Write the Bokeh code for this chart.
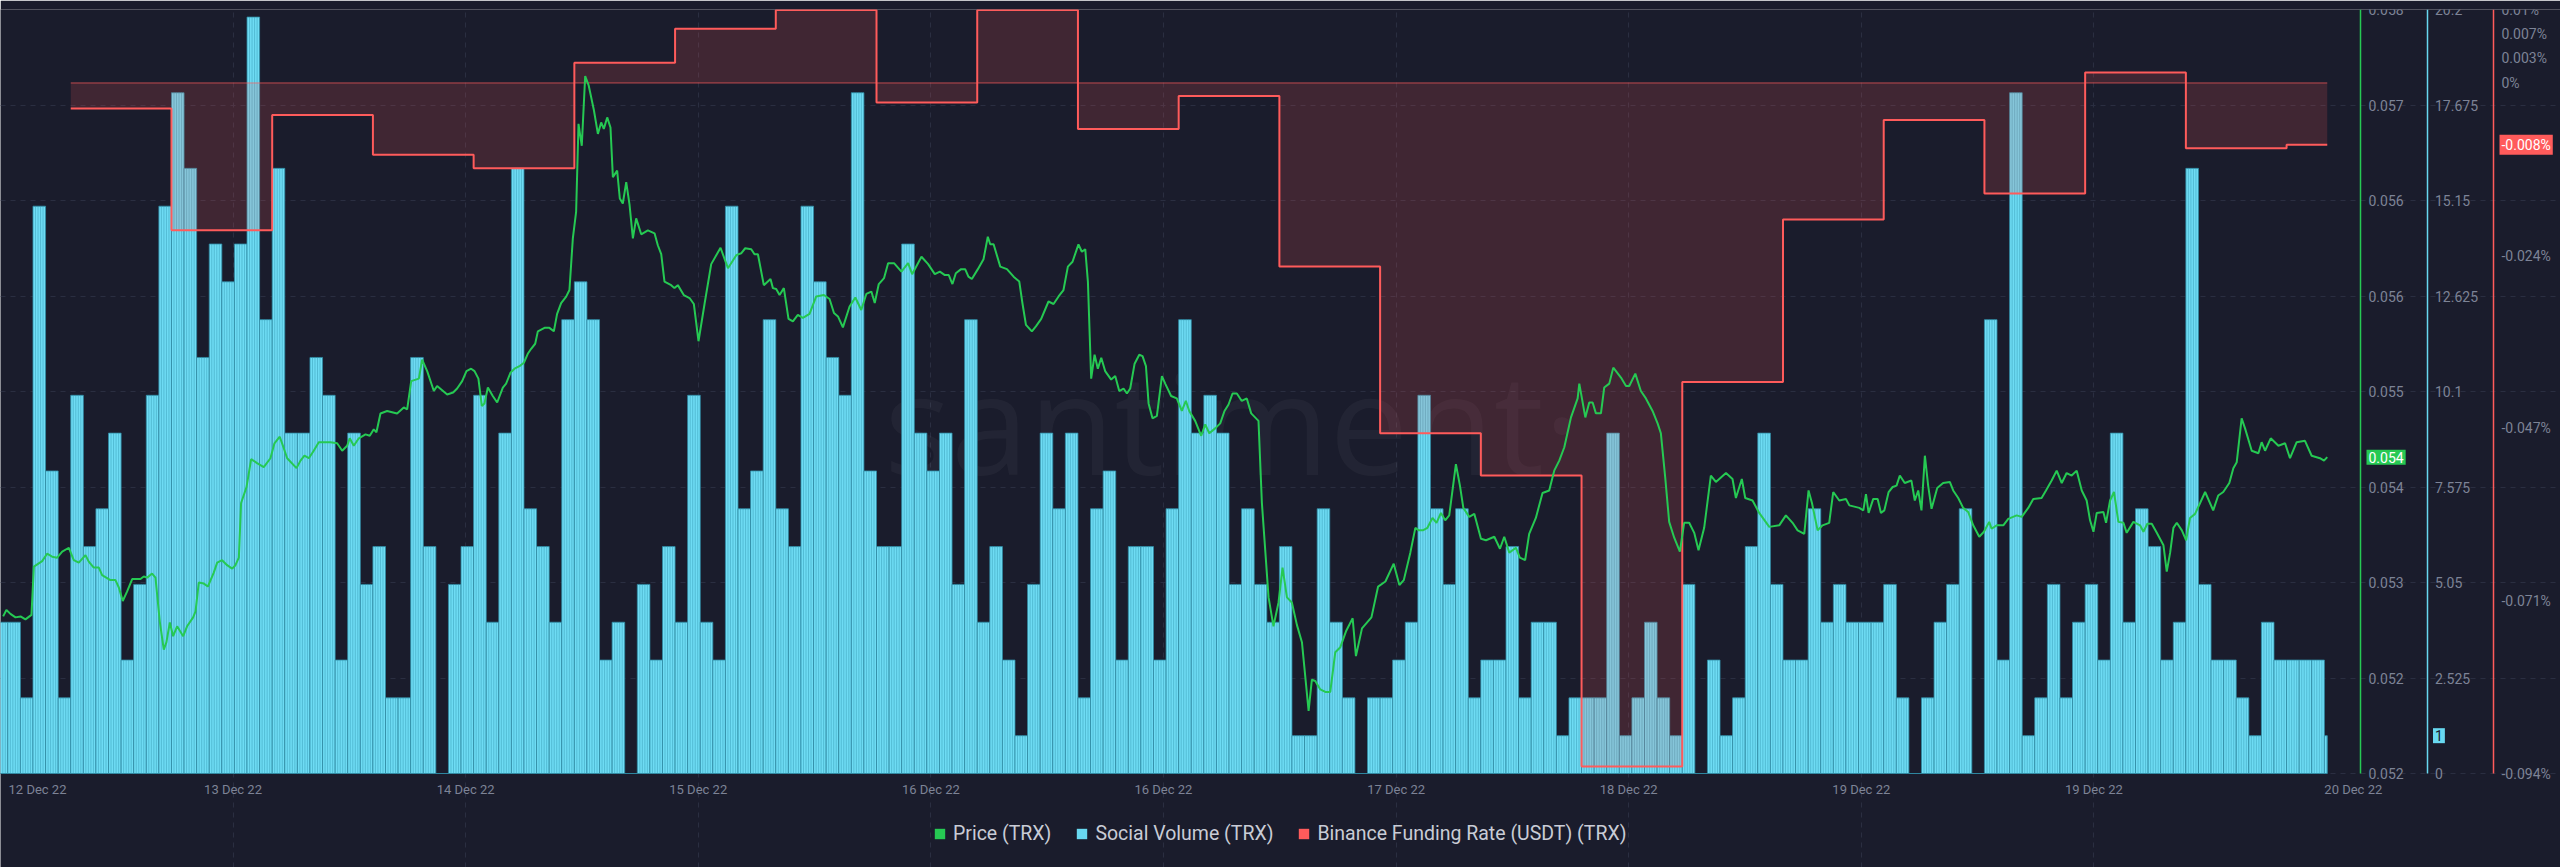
from bokeh.plotting import figure
from bokeh.models import Range1d, LinearAxis, FixedTicker, Legend, LegendItem, Label, ColumnDataSource
from bokeh.embed import file_html
from bokeh.resources import INLINE

# ---------------- data ----------------
# hourly social volume, first bar starts at hour -1
vol_start_hour = -1
volume = [4, 4, 2, 15, 8, 2, 10, 6, 7, 9, 3, 5, 10, 15, 18, 16, 11, 14, 13, 14,
          20, 12, 16, 9, 9, 11, 10, 3, 9, 5, 6, 2, 2, 11, 6, 0, 5, 6, 10, 4,
          9, 16, 7, 6, 4, 12, 13, 12, 3, 4, 0, 5, 3, 6, 4, 10, 4, 3, 15, 7,
          8, 12, 7, 6, 15, 13, 11, 10, 18, 8, 6, 6, 14, 9, 8, 9, 5, 12, 4, 6,
          3, 1, 5, 9, 7, 9, 2, 7, 8, 3, 6, 6, 3, 7, 12, 9, 10, 9, 5, 7,
          5, 4, 6, 1, 1, 7, 4, 2, 0, 2, 2, 3, 4, 10, 7, 5, 7, 2, 3, 3,
          6, 2, 4, 4, 1, 2, 2, 2, 9, 1, 2, 4, 2, 1, 5, 0, 3, 1, 2, 6,
          9, 5, 3, 3, 7, 4, 5, 4, 4, 4, 5, 2, 0, 2, 4, 5, 7, 0, 12, 3,
          18, 1, 2, 5, 2, 4, 5, 3, 9, 4, 7, 6, 3, 4, 16, 5, 3, 3, 2, 1,
          4, 3, 3, 3, 3, 1]

price_hours = [
    -0.37, -0.11, 0.21, 0.61, 1.01, 1.40, 1.88, 2.07, 2.73, 3.12, 3.52, 3.92, 4.32, 4.85, 5.24, 5.64,
    6.17, 6.43, 6.83, 7.23, 7.49, 8.15, 8.55, 8.82, 9.13, 9.48, 9.88, 10.54, 10.80, 11.07, 11.46, 11.73,
    12.07, 12.39, 12.60, 12.87, 13.13, 13.45, 13.93, 14.24, 14.72, 14.91, 15.17, 15.57, 15.89, 16.36,
    16.63, 17.02, 17.42, 17.82, 18.08, 18.35, 18.53, 18.96, 19.33, 19.80, 20.33, 20.86, 21.18, 21.60,
    21.92, 22.19, 22.93, 23.25, 23.56, 23.91, 24.30, 24.70, 25.63, 26.16, 26.56, 26.95, 27.16, 27.48,
    27.88, 28.41, 28.75, 29.07, 29.28, 29.60, 30.13, 30.92, 31.45, 31.72, 32.04, 32.65, 32.91, 33.31,
    33.84, 34.10, 34.90, 35.37, 35.69, 36.09, 36.43, 36.80, 37.07,
    37.38, 37.65, 37.86, 38.13, 38.52, 38.87, 39.32, 39.58, 39.93, 40.25, 40.64, 40.99, 41.30, 41.57,
    41.89, 42.10, 42.63, 43.02, 43.37, 43.63, 43.95, 44.35, 44.61, 44.88, 45.14, 45.33, 45.59, 45.86,
    46.13, 46.55, 46.87, 47.13, 47.34, 47.61, 47.87, 48.06, 48.40, 48.61, 48.85, 49.12, 49.38, 49.65,
    49.91, 50.31, 50.84, 51.37, 51.63, 51.90, 52.16, 52.69, 52.95, 53.22, 53.69, 54.15, 54.49, 54.86,
    55.34, 55.87, 56.61, 57.20, 57.86, 58.25, 58.57, 59.05, 59.31, 59.58, 60.05, 60.58, 60.77, 61.03,
    61.30, 61.64, 62.01, 62.36, 62.75, 63.15, 63.68, 64.21, 64.82, 65.27, 65.62, 65.94, 66.33, 66.86,
    67.32, 67.79, 68.19, 68.59, 68.86, 69.18, 69.60, 69.92, 70.39, 70.98, 71.51, 71.83, 72.57, 73.10,
    73.63, 74.03, 74.43, 74.74,
    75.03, 75.30, 75.72, 76.04, 76.30, 76.57, 77.05, 77.50, 77.84, 78.03, 78.30, 78.83, 79.36, 79.89,
    80.34, 80.60, 80.87, 81.34, 81.66, 82.08, 82.66, 83.06, 83.46, 83.85, 84.20, 84.57, 85.04, 85.31,
    85.58, 85.79, 86.05, 86.32, 86.58, 86.85, 87.16, 87.64, 87.96, 88.28, 88.62, 88.89, 89.15, 89.50,
    89.87, 90.13, 90.40, 90.61, 90.92, 91.27, 91.67, 91.93, 92.40, 92.85, 93.25, 93.57, 93.84, 94.31,
    94.79, 95.11, 95.43, 95.90, 96.30, 96.64, 96.96, 97.28, 97.62, 98.01, 98.41, 98.76, 99.34, 99.61,
    100.14, 100.53, 100.93, 101.25, 101.60, 101.99, 102.39, 102.79, 103.32, 103.58, 103.85, 104.25,
    104.65, 105.04, 105.44, 105.84, 106.29, 106.82, 107.08, 107.56, 108.31, 108.84, 109.42, 110.08,
    110.53, 110.88, 111.40, 111.80, 112.07, 112.39,
    112.76, 113.16, 113.48, 113.83, 114.17, 114.49, 115.02, 115.34, 115.61, 116.08, 116.48, 117.01,
    117.41, 118.07, 118.52, 118.86, 119.26, 119.79, 120.10, 120.52, 120.84, 121.37, 121.90, 122.43,
    122.83, 123.23, 123.63, 124.16, 124.69, 124.82, 125.30, 125.61, 125.88, 126.14, 126.54, 126.80,
    127.20, 127.52, 128.13, 128.53, 128.79, 129.27, 129.71, 130.11, 130.64, 131.04, 131.30, 131.65,
    131.96, 132.36, 132.81, 133.15, 133.55, 133.95, 134.29, 134.74, 135.27, 135.67, 136.47, 136.99,
    137.26, 137.73, 138.00, 138.58, 139.11, 139.91, 140.70, 141.23, 141.76, 142.16, 142.69, 143.03,
    143.30, 143.75, 144.14, 144.67, 144.99, 145.47, 146.00, 146.27, 147.06, 147.38, 147.59, 147.80,
    148.17, 148.52, 148.78, 149.05, 149.39, 149.71, 150.02,
    150.28, 150.67, 151.20, 151.47, 151.74, 152.00, 152.27, 152.53, 152.80, 153.25, 153.72, 154.25,
    154.52, 154.92, 155.31, 155.71, 156.11, 156.59, 156.96, 157.38, 157.57, 157.97, 158.50, 158.89,
    159.56, 159.96, 160.48, 160.88, 161.54, 161.89, 162.34, 162.74, 163.14, 163.53, 163.93, 164.33,
    164.73, 165.12, 165.39, 165.66, 165.92, 166.45, 166.66, 166.98, 167.29, 167.64, 168.04, 168.30,
    168.83, 169.36, 169.63, 169.94, 170.29, 170.69, 171.22, 171.48, 171.75, 172.01, 172.28, 172.68,
    173.02, 173.33, 173.73, 174.13, 174.53, 175.17, 175.57, 175.97, 176.45, 176.77, 177.04, 177.43,
    177.70, 178.23, 178.76, 179.02, 179.29, 179.74, 180.35, 180.88, 181.27, 181.80, 182.46, 182.99,
    183.65, 183.97, 184.23]

price_values = [
    0.052916, 0.052970, 0.052937, 0.052908, 0.052916, 0.052891, 0.052929, 0.053333, 0.053379, 0.053441,
    0.053416, 0.053408, 0.053458, 0.053491, 0.053387, 0.053366, 0.053429, 0.053375, 0.053325, 0.053325,
    0.053262, 0.053220, 0.053220, 0.053158, 0.053045, 0.053125, 0.053229, 0.053229, 0.053250, 0.053241,
    0.053275, 0.053241, 0.052875, 0.052637, 0.052700, 0.052866, 0.052750, 0.052833, 0.052750, 0.052833,
    0.052908, 0.052958, 0.053200, 0.053191, 0.053166, 0.053283, 0.053366, 0.053387, 0.053345, 0.053316,
    0.053345, 0.053408, 0.053866, 0.053999, 0.054233, 0.054200, 0.054166, 0.054241, 0.054366, 0.054421,
    0.054325, 0.054241, 0.054158, 0.054221, 0.054262, 0.054241, 0.054304, 0.054375, 0.054375, 0.054366,
    0.054304, 0.054345, 0.054408, 0.054345, 0.054408, 0.054441, 0.054429, 0.054483, 0.054458, 0.054616,
    0.054637, 0.054616, 0.054666, 0.054650, 0.054887, 0.054908, 0.055066, 0.054971, 0.054804, 0.054846,
    0.054775, 0.054791, 0.054825, 0.054887, 0.054971, 0.054991, 0.054971,
    0.054908, 0.054679, 0.054700, 0.054833, 0.054762, 0.054708, 0.054833, 0.054866, 0.054958, 0.054991,
    0.055012, 0.055041, 0.055116, 0.055158, 0.055200, 0.055304, 0.055333, 0.055333, 0.055304, 0.055450,
    0.055541, 0.055595, 0.055650, 0.056083, 0.056304, 0.057042, 0.056858, 0.057442, 0.057367, 0.057158,
    0.056958, 0.057054, 0.057000, 0.057096, 0.057012, 0.056596, 0.056650, 0.056417, 0.056375, 0.056554,
    0.056367, 0.056083, 0.056250, 0.056117, 0.056150, 0.056125, 0.056025, 0.055950, 0.055721, 0.055691,
    0.055666, 0.055691, 0.055608, 0.055583, 0.055533, 0.055221, 0.055533, 0.055867, 0.056004, 0.055833,
    0.055942, 0.055958, 0.056000, 0.055992, 0.055950, 0.055950, 0.055691, 0.055742, 0.055666, 0.055658,
    0.055608, 0.055666, 0.055408, 0.055387, 0.055441, 0.055416, 0.055450, 0.055596, 0.055608, 0.055575,
    0.055458, 0.055429, 0.055337, 0.055512, 0.055587, 0.055483, 0.055617, 0.055637, 0.055541, 0.055700,
    0.055750, 0.055875, 0.055875, 0.055804, 0.055875, 0.055783, 0.055929, 0.055867, 0.055783, 0.055804,
    0.055775, 0.055775,
    0.055700, 0.055791, 0.055825, 0.055825, 0.055762, 0.055742, 0.055825, 0.055908, 0.056096, 0.056033,
    0.056033, 0.055846, 0.055825, 0.055762, 0.055721, 0.055533, 0.055358, 0.055304, 0.055346, 0.055408,
    0.055554, 0.055533, 0.055596, 0.055650, 0.055846, 0.055887, 0.056033, 0.055971, 0.055992, 0.055721,
    0.054908, 0.055108, 0.054991, 0.055083, 0.054971, 0.054900, 0.054929, 0.054804, 0.054825, 0.054783,
    0.054825, 0.055033, 0.055108, 0.055096, 0.055012, 0.054700, 0.054575, 0.054596, 0.054929, 0.054866,
    0.054762, 0.054742, 0.054637, 0.054721, 0.054637, 0.054554, 0.054429, 0.054525, 0.054450, 0.054491,
    0.054533, 0.054637, 0.054691, 0.054783, 0.054783, 0.054721, 0.054742, 0.054617, 0.054554, 0.053866,
    0.053075, 0.052833, 0.053033, 0.053325, 0.053075, 0.053033, 0.052845, 0.052700, 0.052125, 0.052387,
    0.052375, 0.052304, 0.052283, 0.052283, 0.052616, 0.052658, 0.052791, 0.052900, 0.052583, 0.052816,
    0.052908, 0.053166, 0.053208, 0.053358, 0.053179, 0.053220, 0.053450, 0.053658, 0.053637, 0.053637,
    0.053658, 0.053741, 0.053700, 0.053783, 0.053721, 0.053762, 0.054191, 0.054012, 0.053825, 0.053750,
    0.053775, 0.053566, 0.053554, 0.053583, 0.053483, 0.053583, 0.053450, 0.053491, 0.053408, 0.053387,
    0.053608, 0.053741, 0.053950, 0.053971, 0.054137, 0.054221, 0.054333, 0.054583, 0.054742, 0.054866,
    0.054583, 0.054708, 0.054708, 0.054617, 0.054617, 0.054833, 0.054866, 0.055000, 0.054917, 0.054846,
    0.054846, 0.054950, 0.054804, 0.054742, 0.054637, 0.054533, 0.054450, 0.054075, 0.053708, 0.053575,
    0.053458, 0.053700, 0.053700, 0.053616, 0.053471, 0.053658, 0.054096, 0.054042, 0.054117, 0.054067,
    0.053908, 0.054067, 0.053908, 0.053887, 0.053783, 0.053666, 0.053679, 0.053762, 0.053700, 0.053637,
    0.053608, 0.053971, 0.053866, 0.053637, 0.053679, 0.053700, 0.053958, 0.053887, 0.053900, 0.053846,
    0.053825, 0.053804, 0.053941, 0.053783, 0.053900, 0.053900, 0.053783, 0.053804, 0.053958, 0.054000,
    0.054012,
    0.054096, 0.054033, 0.054054, 0.053887, 0.053971, 0.053804, 0.054262, 0.054012, 0.053817, 0.053991,
    0.054033, 0.054042, 0.053971, 0.053908, 0.053825, 0.053791, 0.053679, 0.053583, 0.053625, 0.053708,
    0.053650, 0.053679, 0.053679, 0.053733, 0.053762, 0.053750, 0.053825, 0.053900, 0.053908, 0.053971,
    0.054054, 0.054137, 0.054033, 0.054117, 0.054096, 0.054137, 0.053971, 0.053887, 0.053721, 0.053625,
    0.053783, 0.053791, 0.053700, 0.053887, 0.053958, 0.053708, 0.053700, 0.053616, 0.053708, 0.053679,
    0.053625, 0.053692, 0.053692, 0.053616, 0.053512, 0.053291, 0.053450, 0.053658, 0.053700, 0.053637,
    0.053554, 0.053741, 0.053775, 0.053866, 0.053958, 0.053804, 0.053929, 0.053958, 0.054033, 0.054158,
    0.054208, 0.054575, 0.054491, 0.054304, 0.054283, 0.054375, 0.054304, 0.054408, 0.054346, 0.054366,
    0.054241, 0.054375, 0.054387, 0.054262, 0.054241, 0.054221, 0.054250]

# Binance funding rate (%), one value every 8 hours starting at hour 5
funding_start_hour = 5
funding_step_hours = 8
funding_rate = [-0.00347, -0.02006, -0.00435, -0.00977, -0.01160, 0.00276, 0.00737, 0.00994,
                -0.00266, 0.00994, -0.00625, -0.00178, -0.02500, -0.04769, -0.05344, -0.09306,
                -0.04071, -0.01857, -0.00503, -0.01505, 0.00141, -0.00889, -0.00841]

price_ticks = [0.0516, 0.0524, 0.0532, 0.054, 0.0548, 0.0556, 0.0564, 0.0572, 0.058]
price_tick_labels = ["0.052", "0.052", "0.053", "0.054", "0.055", "0.056", "0.056", "0.057", "0.058"]
vol_ticks = [0, 2.525, 5.05, 7.575, 10.1, 12.625, 15.15, 17.675, 20.2]
vol_tick_labels = ["0", "2.525", "5.05", "7.575", "10.1", "12.625", "15.15", "17.675", "20.2"]
fund_ticks = [-0.094, -0.0705, -0.047, -0.0235, 0.0, 0.00333, 0.00667, 0.01]
fund_tick_labels = ["-0.094%", "-0.071%", "-0.047%", "-0.024%", "0%", "0.003%", "0.007%", "0.01%"]
date_tick_hours = [2.36, 17.89, 36.37, 54.84, 73.32, 91.79, 110.27, 128.74, 147.22, 165.69, 186.3]
date_tick_labels = ["12 Dec 22", "13 Dec 22", "14 Dec 22", "15 Dec 22", "16 Dec 22", "16 Dec 22",
                    "17 Dec 22", "18 Dec 22", "19 Dec 22", "19 Dec 22", "20 Dec 22"]

# ---------------- style / layout ----------------
BG = "#1a1c2c"
GREEN = "#26c953"
CYAN = "#68d8f0"
RED = "#ff5b5b"
GREY = "#7d8396"
FONT = "Roboto"

WIDTH, HEIGHT = 2560, 867
TOP_PAD = 9            # px above the chart area
CHART_H = 764          # px height of the chart area
PX_PER_HOUR = 12.59
X_START = -0.58
X_DATA_END = X_START + 2360 / PX_PER_HOUR          # where the price axis sits
X_FRAME_END = X_START + WIDTH / PX_PER_HOUR
AXIS_GAP = 66.5 / PX_PER_HOUR                       # spacing between the three right axes
EXT = (HEIGHT - TOP_PAD - CHART_H) / CHART_H        # room below the chart (dates + legend)

PRICE_RANGE = (0.0516, 0.0580)
VOL_RANGE = (0.0, 20.2)
FUND_RANGE = (-0.094, 0.01)


def extended(lo, hi):
    return Range1d(lo - EXT * (hi - lo), hi)


p = figure(width=WIDTH, height=HEIGHT, output_backend="svg", toolbar_location=None,
           x_range=Range1d(X_START, X_FRAME_END), y_range=extended(*PRICE_RANGE),
           y_axis_location=None, min_border_left=0, min_border_top=TOP_PAD,
           min_border_right=0, min_border_bottom=0,
           background_fill_color=BG, border_fill_color=BG, outline_line_color=None)
p.extra_y_ranges = {"vol": extended(*VOL_RANGE), "fund": extended(*FUND_RANGE)}

# grid
p.xgrid.ticker = FixedTicker(ticks=date_tick_hours[1:-1])
p.xgrid.bounds = PRICE_RANGE
p.ygrid.ticker = FixedTicker(ticks=price_ticks)
p.ygrid.bounds = (X_START, X_DATA_END)
for g in (p.xgrid, p.ygrid):
    g.grid_line_color = "#2a2e41"
    g.grid_line_dash = "5 5"
    g.grid_line_width = 1

# watermark
p.add_layout(Label(x=X_START + (X_DATA_END - X_START) * 0.522, y=0.05456, text="santiment·",
                   text_align="center", text_baseline="alphabetic", text_font="Open Sans",
                   text_font_size="140px", text_color="#ffffff", text_alpha=0.04, level="underlay"))

# social volume bars (each hourly bar drawn with thin inner stripes)
last_hour = price_hours[-1]
bar_left = [vol_start_hour + i for i in range(len(volume))]
bar_right = [min(h + 1, last_hour) for h in bar_left]
bsrc = ColumnDataSource(dict(left=bar_left, right=bar_right, top=volume))
p.quad(left="left", right="right", top="top", bottom=0, source=bsrc, y_range_name="vol",
       fill_color="#6edcf4", line_color="#2f8aa3", line_width=0.8)
sx, sy = [], []
for l, r, v in zip(bar_left, bar_right, volume):
    for k in range(1, 5):
        xs = l + k * 0.2
        if v > 0 and X_START < xs < r:
            sx.append(xs)
            sy.append(v)
p.segment(x0=sx, y0=[0] * len(sx), x1=sx, y1=sy, y_range_name="vol",
          line_color="#3597b0", line_width=0.8, line_alpha=0.6)

# funding rate step + fill
f_hours = [funding_start_hour + funding_step_hours * i for i in range(len(funding_rate))]
f_ends = f_hours[1:] + [last_hour]
fx, fy = [], []
for t0, t1, r in zip(f_hours, f_ends, funding_rate):
    fx += [t0, t1]
    fy += [r, r]
p.varea(x=fx, y1=[0] * len(fx), y2=fy, y_range_name="fund", fill_color=RED, fill_alpha=0.17)
p.line([f_hours[0], last_hour], [0, 0], y_range_name="fund", line_color=RED, line_width=1, line_alpha=0.7)
p.line(fx, fy, y_range_name="fund", line_color=RED, line_width=2)

# price
p.line(price_hours, price_values, line_color=GREEN, line_width=2)

# x axis (drawn along the bottom of the chart area)
xa = p.xaxis[0]
xa.fixed_location = PRICE_RANGE[0]
xa.ticker = FixedTicker(ticks=date_tick_hours)
xa.major_label_overrides = dict(zip(date_tick_hours, date_tick_labels))
xa.axis_line_color = None
xa.major_tick_line_color = None
xa.minor_tick_line_color = None
xa.major_tick_out = 0
xa.major_tick_in = 0
xa.major_label_standoff = 8
xa.major_label_text_color = GREY
xa.major_label_text_font = FONT
xa.major_label_text_font_size = "13px"


def right_axis(ticks, labels, color, rng, loc, bounds):
    kw = {} if rng is None else {"y_range_name": rng}
    ax = LinearAxis(ticker=FixedTicker(ticks=ticks), major_label_overrides=dict(zip(ticks, labels)),
                    fixed_location=loc, bounds=bounds,
                    axis_line_color=color, axis_line_width=1.5,
                    major_tick_line_color=None, minor_tick_line_color=None,
                    major_tick_out=0, major_tick_in=0, minor_tick_out=0, minor_tick_in=0,
                    major_label_standoff=8, major_label_text_color=GREY,
                    major_label_text_font=FONT, major_label_text_font_size="14px", **kw)
    p.add_layout(ax, "right")


right_axis(price_ticks, price_tick_labels, GREEN, None, X_DATA_END, PRICE_RANGE)
right_axis(vol_ticks, vol_tick_labels, CYAN, "vol", X_DATA_END + AXIS_GAP, VOL_RANGE)
right_axis(fund_ticks, fund_tick_labels, RED, "fund", X_DATA_END + 2 * AXIS_GAP, FUND_RANGE)


# value badges
def badge(y, text, color, x, rng=None, tcolor="white"):
    kw = {} if rng is None else {"y_range_name": rng}
    p.add_layout(Label(x=x, y=y, x_offset=6, text=text, text_align="left",
                       text_baseline="middle", text_color=tcolor, text_font=FONT,
                       text_font_size="14px", background_fill_color=color, padding=2, **kw))


badge(price_values[-1], f"{price_values[-1]:.3f}", GREEN, X_DATA_END)
badge(volume[-1], f"{volume[-1]}", CYAN, X_DATA_END + AXIS_GAP, "vol", "#1a1c2c")
badge(funding_rate[-1], f"{funding_rate[-1]:.3f}%", RED, X_DATA_END + 2 * AXIS_GAP, "fund")

# legend (swatch renderers hold a single empty point so only the legend glyph shows)
nan = float("nan")
r1 = p.quad(left=[nan], right=[nan], top=[nan], bottom=[nan], fill_color=GREEN, line_color=None)
r2 = p.quad(left=[nan], right=[nan], top=[nan], bottom=[nan], fill_color=CYAN, line_color=None)
r3 = p.quad(left=[nan], right=[nan], top=[nan], bottom=[nan], fill_color=RED, line_color=None)
legend = Legend(items=[LegendItem(label="Price (TRX)", renderers=[r1]),
                       LegendItem(label="Social Volume (TRX)", renderers=[r2]),
                       LegendItem(label="Binance Funding Rate (USDT) (TRX)", renderers=[r3])],
                orientation="horizontal", location=(933, 22),
                background_fill_alpha=0, border_line_color=None,
                label_text_color="#c9ccd6", label_text_font=FONT, label_text_font_size="19.5px",
                glyph_width=13, glyph_height=13, label_height=22, spacing=24, label_standoff=7,
                padding=0, margin=0)
p.add_layout(legend)

open("out.html", "w").write(file_html(p, INLINE))
